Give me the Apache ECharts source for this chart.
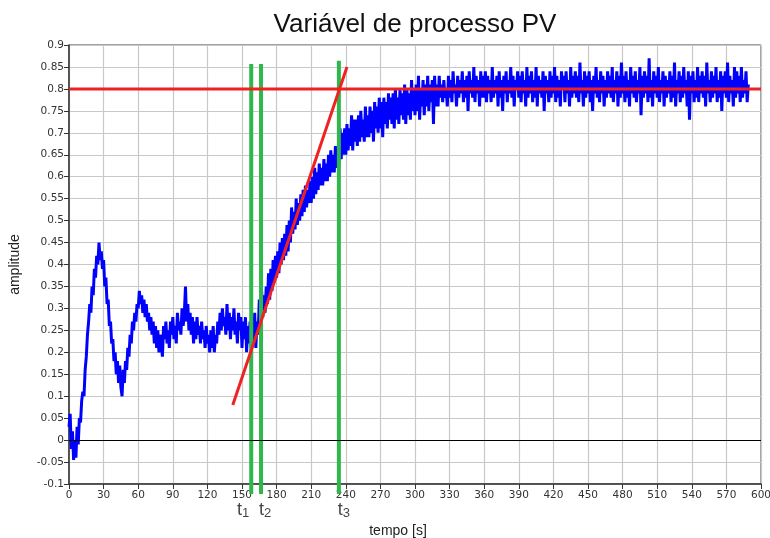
<!DOCTYPE html>
<html>
<head>
<meta charset="utf-8">
<script src="https://cdn.jsdelivr.net/npm/echarts@6/dist/echarts.min.js"></script>
<style>html,body{margin:0;padding:0;background:#fff}#c{width:770px;height:538px}</style>
</head>
<body>
<div id="c"></div>
<script>
// ---- data ----
var titleText = 'Variável de processo PV';
var xName = 'tempo [s]';
var yName = 'amplitude';
var sampleStep = 1; // seconds between PV samples
var pvValues = [
0.03,0.06,-0.02,0.02,-0.045,0.00,-0.04,0.03,-0.01,0.05,
0.04,0.09,0.11,0.10,0.16,0.19,0.24,0.27,0.31,0.29,
0.35,0.33,0.39,0.37,0.42,0.40,0.45,0.41,0.43,0.39,
0.41,0.35,0.37,0.31,0.32,0.26,0.27,0.22,0.23,0.18,
0.20,0.15,0.18,0.13,0.17,0.12,0.10,0.16,0.13,0.18,
0.16,0.21,0.19,0.24,0.22,0.27,0.25,0.29,0.27,0.31,
0.30,0.34,0.31,0.33,0.29,0.32,0.28,0.31,0.27,0.29,
0.25,0.28,0.24,0.27,0.22,0.26,0.21,0.25,0.20,0.24,
0.22,0.19,0.26,0.23,0.27,0.22,0.25,0.21,0.27,0.24,
0.28,0.23,0.26,0.22,0.29,0.25,0.27,0.24,0.30,0.26,
0.29,0.35,0.27,0.31,0.25,0.29,0.24,0.28,0.22,0.27,
0.23,0.28,0.24,0.26,0.22,0.27,0.23,0.25,0.21,0.26,
0.22,0.24,0.20,0.25,0.21,0.26,0.20,0.24,0.22,0.27,
0.24,0.29,0.25,0.30,0.26,0.28,0.24,0.31,0.25,0.29,
0.23,0.28,0.25,0.30,0.24,0.27,0.22,0.29,0.25,0.28,
0.21,0.27,0.23,0.28,0.20,0.26,0.22,0.27,0.21,0.25,
0.22,0.29,0.21,0.27,0.24,0.32,0.26,0.34,0.28,0.33,
0.29,0.35,0.31,0.38,0.32,0.39,0.34,0.41,0.36,0.42,
0.37,0.43,0.38,0.45,0.40,0.46,0.41,0.47,0.42,0.49,
0.43,0.50,0.45,0.53,0.47,0.52,0.48,0.55,0.49,0.54,
0.50,0.56,0.51,0.57,0.52,0.58,0.53,0.57,0.54,0.59,
0.54,0.60,0.55,0.62,0.56,0.61,0.57,0.63,0.58,0.62,
0.58,0.64,0.59,0.63,0.59,0.65,0.60,0.66,0.61,0.65,
0.61,0.67,0.62,0.66,0.63,0.71,0.64,0.70,0.65,0.71,
0.65,0.72,0.66,0.71,0.67,0.74,0.66,0.73,0.68,0.73,
0.67,0.74,0.68,0.75,0.69,0.73,0.68,0.76,0.69,0.74,
0.69,0.76,0.70,0.75,0.68,0.77,0.71,0.76,0.70,0.78,
0.71,0.77,0.69,0.78,0.72,0.77,0.71,0.79,0.73,0.78,
0.72,0.79,0.71,0.80,0.73,0.78,0.72,0.80,0.74,0.79,
0.73,0.81,0.72,0.80,0.74,0.79,0.73,0.82,0.75,0.80,
0.74,0.81,0.75,0.83,0.73,0.80,0.76,0.82,0.74,0.81,
0.76,0.83,0.75,0.81,0.77,0.82,0.72,0.83,0.76,0.81,
0.76,0.83,0.78,0.81,0.77,0.82,0.78,0.80,0.76,0.83,
0.78,0.82,0.77,0.84,0.79,0.81,0.76,0.83,0.78,0.82,
0.79,0.84,0.77,0.82,0.78,0.83,0.75,0.84,0.79,0.82,
0.78,0.85,0.77,0.83,0.79,0.82,0.76,0.84,0.78,0.83,
0.78,0.84,0.77,0.83,0.79,0.82,0.77,0.85,0.78,0.82,
0.79,0.83,0.76,0.84,0.78,0.82,0.75,0.83,0.79,0.84,
0.77,0.82,0.79,0.85,0.78,0.83,0.76,0.82,0.80,0.84,
0.78,0.83,0.77,0.84,0.79,0.82,0.76,0.85,0.78,0.83,
0.79,0.84,0.77,0.82,0.78,0.85,0.76,0.83,0.79,0.82,
0.78,0.84,0.75,0.83,0.79,0.82,0.77,0.84,0.78,0.83,
0.79,0.85,0.77,0.83,0.78,0.82,0.76,0.84,0.80,0.83,
0.77,0.84,0.79,0.82,0.76,0.85,0.78,0.83,0.79,0.84,
0.78,0.83,0.77,0.86,0.79,0.82,0.76,0.84,0.78,0.83,
0.79,0.84,0.77,0.82,0.75,0.83,0.79,0.85,0.78,0.82,
0.77,0.84,0.79,0.83,0.76,0.82,0.78,0.84,0.79,0.83,
0.78,0.85,0.77,0.82,0.79,0.84,0.76,0.83,0.78,0.86,
0.79,0.83,0.77,0.84,0.78,0.82,0.76,0.85,0.79,0.83,
0.78,0.84,0.77,0.82,0.79,0.85,0.74,0.83,0.78,0.84,
0.79,0.83,0.77,0.87,0.78,0.82,0.76,0.84,0.79,0.83,
0.78,0.85,0.77,0.82,0.79,0.84,0.76,0.83,0.78,0.82,
0.79,0.84,0.77,0.83,0.78,0.86,0.76,0.82,0.79,0.84,
0.77,0.83,0.78,0.85,0.79,0.82,0.76,0.84,0.73,0.83,
0.79,0.84,0.77,0.82,0.78,0.85,0.77,0.83,0.79,0.84,
0.78,0.83,0.76,0.86,0.79,0.82,0.77,0.84,0.78,0.83,
0.79,0.85,0.77,0.82,0.78,0.84,0.75,0.83,0.79,0.84,
0.78,0.86,0.77,0.83,0.79,0.82,0.76,0.85,0.78,0.84,
0.79,0.83,0.77,0.85,0.78,0.82,0.79,0.84,0.77,0.81
];
var setpoint = 0.8;
var setpointSpan = [0, 600];
var tangentX = [142, 241];
var tangentY = [0.08, 0.85];
var markerNames = ['1', '2', '3'];
var markerTimes = [158, 166.5, 234];
var markerTops = [0.857, 0.857, 0.864];
var markerBottom = -0.123;
var xMin = 0, xMax = 600, xStep = 30;
var yMin = -0.1, yMax = 0.9, yStep = 0.05;

// ---- style ----
var markerLabelOffsets = [[-8, 0], [4, 0], [5, 0]];

// ---- build ----
var pvData = pvValues.map(function (v, i) { return [i * sampleStep, v]; });
var chart = echarts.init(document.getElementById('c'), null, {renderer: 'canvas'});
var labelFont = 'DejaVu Sans';
var series = [
  {
    type: 'line', name: 'PV', data: pvData, showSymbol: false, symbol: 'none',
    lineStyle: {color: '#0000ff', width: 3}, z: 3, animation: false,
    markLine: {
      silent: true, symbol: 'none', label: {show: false},
      lineStyle: {color: '#000', width: 1, type: 'solid'},
      data: [{yAxis: 0}]
    }
  },
  {
    type: 'line', name: 'SP', data: [[setpointSpan[0], setpoint], [setpointSpan[1], setpoint]],
    showSymbol: false, symbol: 'none', lineStyle: {color: '#ee2222', width: 3}, z: 5, animation: false
  },
  {
    type: 'line', name: 'tangent', data: [[tangentX[0], tangentY[0]], [tangentX[1], tangentY[1]]],
    showSymbol: false, symbol: 'none', lineStyle: {color: '#ee2222', width: 3}, z: 5, animation: false
  }
];
markerTimes.forEach(function (t, k) {
  series.push({
    type: 'line', name: 't' + markerNames[k], clip: false, animation: false, z: 4,
    symbol: 'none', showSymbol: false,
    lineStyle: {color: '#2eb84b', width: 4},
    data: [[t, markerBottom], [t, markerTops[k]]]
  });
  series.push({
    type: 'scatter', name: 'label t' + markerNames[k], clip: false, animation: false, z: 6,
    symbol: 'circle', symbolSize: 1, itemStyle: {color: 'rgba(255,255,255,0)'},
    data: [[t, markerBottom]],
    label: {
      show: true, position: 'bottom', distance: 5, offset: markerLabelOffsets[k],
      formatter: '{a|t}{b|' + markerNames[k] + '}',
      rich: {
        a: {fontFamily: 'Liberation Sans', fontSize: 18, color: '#111'},
        b: {fontFamily: 'Liberation Sans', fontSize: 13, color: '#111', verticalAlign: 'bottom', padding: [7, 0, 0, 0]}
      }
    }
  });
});

chart.setOption({
  animation: false,
  backgroundColor: '#fff',
  title: {
    text: titleText, left: 410, top: 7, textAlign: 'center',
    textStyle: {fontFamily: 'Liberation Sans', fontSize: 26, fontWeight: 'normal', color: '#111'}
  },
  grid: {left: 69, right: 9, top: 45, bottom: 54, show: true, borderColor: '#444', borderWidth: 1,
    containLabel: false, outerBoundsMode: 'none'},
  xAxis: {
    type: 'value', min: xMin, max: xMax, interval: xStep,
    name: xName, nameLocation: 'middle', nameGap: 40,
    nameTextStyle: {fontFamily: 'Liberation Sans', fontSize: 14, color: '#222', padding: [0, 34, 0, 0]},
    axisLine: {show: true, onZero: false, lineStyle: {color: '#333', width: 1.5}},
    axisTick: {show: true, length: 5, lineStyle: {color: '#333'}},
    axisLabel: {fontFamily: labelFont, fontSize: 10.5, color: '#333', margin: 6},
    splitLine: {show: true, lineStyle: {color: '#c8c8c8', width: 1.2}}
  },
  yAxis: {
    type: 'value', min: yMin, max: yMax, interval: yStep,
    name: yName, nameLocation: 'middle', nameGap: 47,
    nameTextStyle: {fontFamily: 'Liberation Sans', fontSize: 14, color: '#222'},
    axisLine: {show: true, onZero: false, lineStyle: {color: '#333', width: 1.5}},
    axisTick: {show: true, length: 5, lineStyle: {color: '#333'}},
    axisLabel: {fontFamily: labelFont, fontSize: 10.5, color: '#333', margin: 5,
      formatter: function (v) { return String(Math.round(v * 100) / 100); }},
    splitLine: {show: true, lineStyle: {color: '#c8c8c8', width: 1.2}}
  },
  series: series
});
</script>
</body>
</html>
